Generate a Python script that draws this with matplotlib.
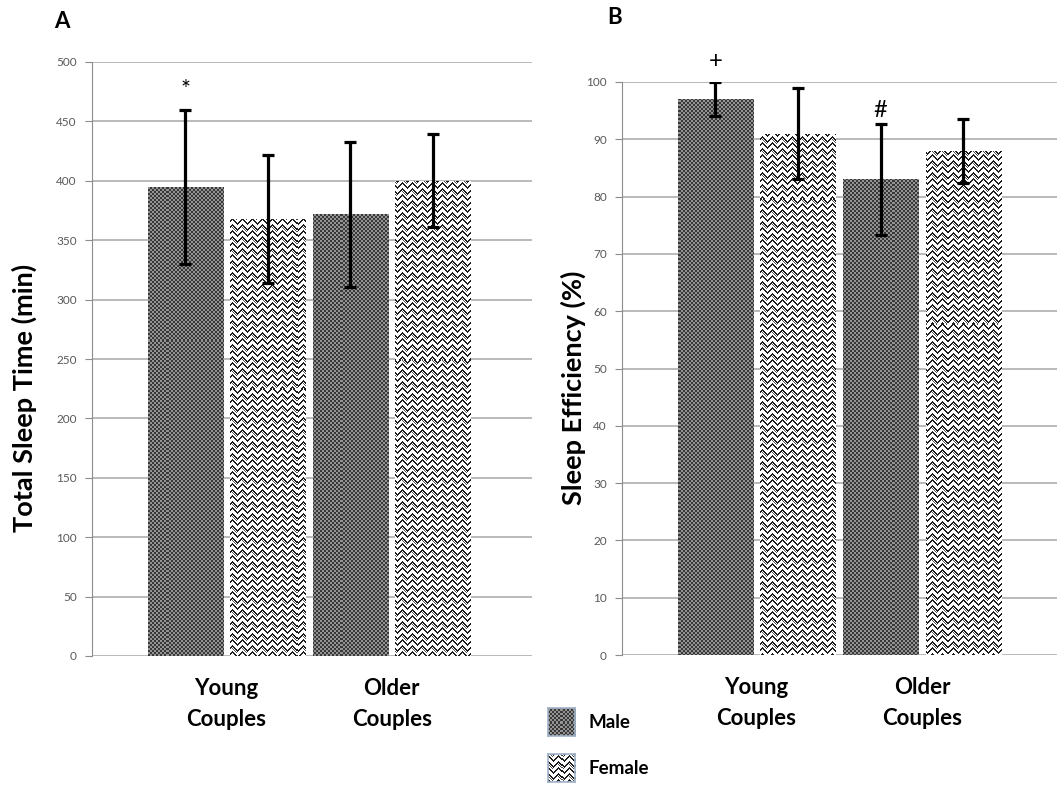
import numpy as np
import matplotlib
matplotlib.use("Agg")
import matplotlib.pyplot as plt

plt.rcParams['font.family'] = ['Lato', 'DejaVu Sans']

# donnees
groupes = ['Young\nCouples', 'Older\nCouples']
series = ['Male', 'Female']

tst_male = [395, 372]
tst_male_sd = [65, 61]
tst_female = [368, 400]
tst_female_sd = [54, 39]

se_male = [97, 83]
se_male_sd = [3, 9.7]
se_female = [91, 88]
se_female_sd = [8, 5.6]

# marqueurs de significativite : (panneau, serie, groupe, symbole)
marques = [('A', 0, 0, '*'), ('B', 0, 0, '+'), ('B', 0, 1, '#')]

W, H = 1057, 786
fig = plt.figure(figsize=(W / 100, H / 100), dpi=100)


def motif_male(h, w):
    yy, xx = np.mgrid[0:h, 0:w]
    return np.where(((xx // 2) + (yy // 2)) % 2 == 0, 0.22, 0.58)


def motif_female(h, w):
    yy, xx = np.mgrid[0:h, 0:w]
    tri = np.abs((xx % 10) - 5)
    t = (yy + tri) % 6
    img = np.where(t < 2, 0.12, 1.0)
    # petites coupures pour l'effet "tresse"
    coupe = ((xx // 5) % 2 == 0) & (((yy + tri) // 6) % 2 == 0) & (t == 3)
    img[coupe] = 0.3
    return img


motifs = [motif_male, motif_female]


def panneau(rect, male, male_sd, female, female_sd, ymax, ystep, xlim, ylabel, lab_xy):
    ax = fig.add_axes(rect)
    pw = int(round(rect[2] * W))
    ph = int(round(rect[3] * H))
    x = np.arange(len(groupes))
    vals = [male, female]
    sds = [male_sd, female_sd]
    offs = [-0.25, 0.25]
    for i in range(2):
        bars = ax.bar(x + offs[i], vals[i], 0.455, facecolor='none', edgecolor='none', zorder=2)
        img = motifs[i](ph, pw)
        for b in bars:
            im = ax.imshow(img, extent=(0, 1, 0, 1), transform=ax.transAxes, cmap='gray',
                           vmin=0, vmax=1, interpolation='nearest', aspect='auto', zorder=2)
            im.set_clip_path(b)
        ax.errorbar(x + offs[i], vals[i], yerr=sds[i], fmt='none', ecolor='black',
                    elinewidth=2.3, capsize=4, capthick=2.3, zorder=3)
    ax.set_xlim(*xlim)
    ax.set_ylim(0, ymax)
    ax.set_yticks(np.arange(0, ymax + 1, ystep))
    ax.grid(axis='y', color='#b4b4b4', linewidth=1.3, zorder=0)
    ax.set_axisbelow(True)
    for s in ['top', 'right', 'bottom']:
        ax.spines[s].set_visible(False)
    ax.spines['left'].set_color('#8c8c8c')
    ax.tick_params(axis='y', length=5, color='#8c8c8c', labelcolor='#595959', labelsize=8.5, pad=6)
    ax.set_xticks(x)
    ax.set_xticklabels(groupes, fontsize=16, fontweight='bold', linespacing=1.55)
    ax.tick_params(axis='x', length=0, pad=16)
    ax.set_ylabel(ylabel, fontsize=19.5, fontweight='bold')
    ax.yaxis.set_label_coords(*lab_xy)
    return ax, offs, vals, sds


axA, offs, valsA, sdsA = panneau([92 / W, 1 - 656 / H, 440 / W, 594 / H],
                                 tst_male, tst_male_sd, tst_female, tst_female_sd,
                                 500, 50, (-0.815, 1.85), 'Total Sleep Time (min)', (-0.125, 0.434))
axB, offs, valsB, sdsB = panneau([622 / W, 1 - 655 / H, 435 / W, 573 / H],
                                 se_male, se_male_sd, se_female, se_female_sd,
                                 100, 10, (-0.813, 1.816), 'Sleep Efficiency (%)', (-0.083, 0.466))

decal = {'*': 7, '+': 7, '#': 2}
for p, s, g, sym in marques:
    ax, vals, sds = (axA, valsA, sdsA) if p == 'A' else (axB, valsB, sdsB)
    ax.annotate(sym, (g + offs[s], vals[s][g] + sds[s][g]), xytext=(0, decal[sym]),
                textcoords='offset points', ha='center', va='bottom', fontsize=17,
                annotation_clip=False, zorder=4)

fig.text(62 / W, 1 - 22 / H, 'A', fontsize=16, fontweight='bold', ha='center', va='center')
fig.text(615 / W, 1 - 17 / H, 'B', fontsize=16, fontweight='bold', ha='center', va='center')

# legende faite a la main (carres avec motif)
for i, (nom, yc) in enumerate(zip(series, [722, 768])):
    lax = fig.add_axes([548 / W, 1 - (yc + 14) / H, 27 / W, 28 / H])
    lax.imshow(motifs[i](28, 27), cmap='gray', vmin=0, vmax=1, interpolation='nearest', aspect='auto')
    lax.set_xticks([])
    lax.set_yticks([])
    for sp in lax.spines.values():
        sp.set_color('#9fb3c8')
        sp.set_linewidth(1.2)
    fig.text(588 / W, 1 - yc / H, nom, fontsize=13.5, fontweight='bold', va='center', ha='left')

fig.savefig('out.png', dpi=100)
